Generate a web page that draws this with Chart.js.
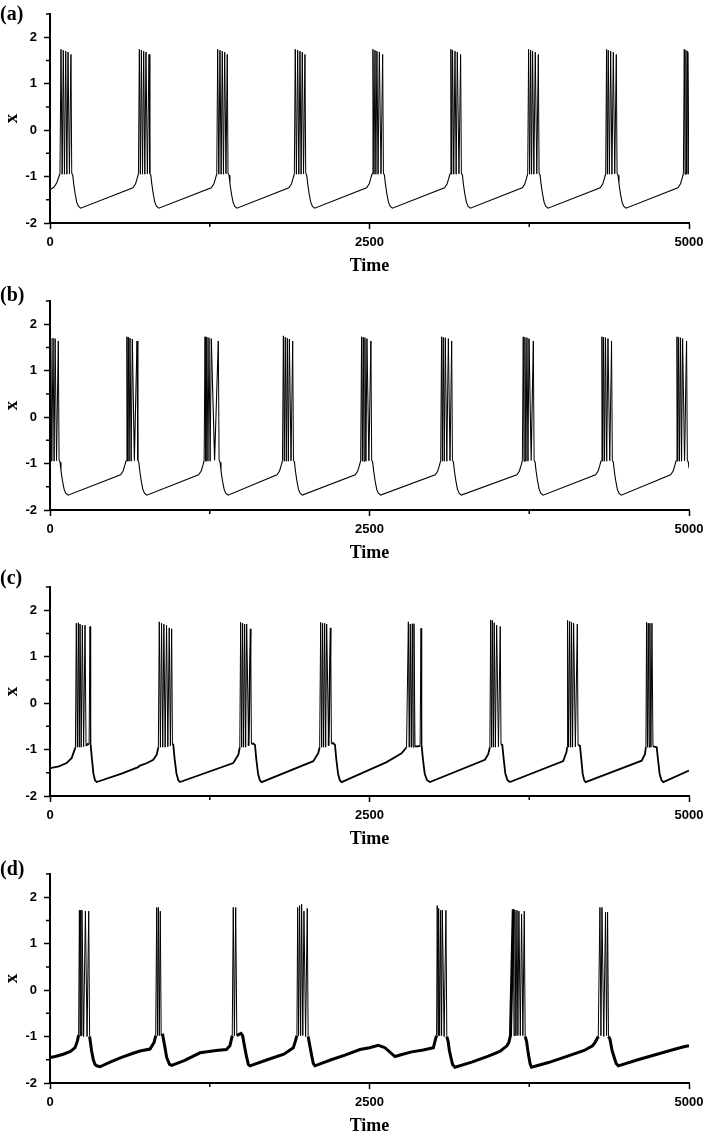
<!DOCTYPE html>
<html>
<head>
<meta charset="utf-8">
<script src="https://cdn.jsdelivr.net/npm/chart.js@4.4.1/dist/chart.umd.min.js"></script>
<style>
html, body { margin: 0; padding: 0; background: #fff; overflow: hidden; }
#wrapper { position: relative; width: 705px; height: 1132px; overflow: hidden; }
.panel { position: absolute; left: 0; }
.tag { position: absolute; left: 0; font: bold 20px "Liberation Serif", "Times New Roman", serif; line-height: 20px; color: #000; }
</style>
</head>
<body>
<div id="wrapper">
  <canvas class="panel" id="pa" width="705" height="286" style="top:0px"></canvas>
  <canvas class="panel" id="pb" width="705" height="286" style="top:287px"></canvas>
  <canvas class="panel" id="pc" width="705" height="286" style="top:573px"></canvas>
  <canvas class="panel" id="pd" width="705" height="286" style="top:860px"></canvas>
  <div class="tag" style="top:3px">(a)</div>
  <div class="tag" style="top:284px">(b)</div>
  <div class="tag" style="top:567px">(c)</div>
  <div class="tag" style="top:858px">(d)</div>
</div>
<script>
const xTicks = [0, 2500, 5000];
const yTicks = [-2, -1, 0, 1, 2];
const xMinor = [1250, 3750];
const yMinor = [-1.5, -0.5, 0.5, 1.5, 2.5];

// [time, x]
const traceA = [
  [0,-1.28],[30,-1.23],[52,-1.14],[66,-1.03],[78,-0.94],
  [86,1.74],[95,-0.95],[104,1.72],[113,-0.95],[123,1.70],[132,-0.95],[141,1.68],[152,-0.94],[164,1.63],[170,-0.93],[178,-0.97],[185,-1.15],[196,-1.36],[209,-1.55],[222,-1.64],[240,-1.68],
  [649,-1.24],[669,-1.16],[681,-1.05],[692,-0.94],
  [699,1.74],[707,-0.95],[715,1.72],[724,-0.95],[733,1.70],[742,-0.95],[751,1.68],[762,-0.94],[775,1.63],[781,-0.93],[789,-0.97],[796,-1.15],[807,-1.36],[820,-1.55],[833,-1.64],[851,-1.68],
  [1262,-1.24],[1282,-1.16],[1294,-1.05],[1305,-0.94],
  [1312,1.74],[1321,-0.95],[1330,1.72],[1339,-0.95],[1348,1.70],[1357,-0.95],[1367,1.68],[1377,-0.94],[1387,1.63],[1393,-0.93],[1401,-0.97],[1408,-1.15],[1419,-1.36],[1432,-1.55],[1445,-1.64],[1463,-1.68],
  [1869,-1.24],[1889,-1.16],[1901,-1.05],[1912,-0.94],
  [1919,1.74],[1928,-0.95],[1938,1.72],[1947,-0.95],[1956,1.70],[1965,-0.95],[1974,1.68],[1984,-0.94],[1995,1.63],[2001,-0.93],[2009,-0.97],[2016,-1.15],[2027,-1.36],[2040,-1.55],[2053,-1.64],[2071,-1.68],
  [2477,-1.24],[2497,-1.16],[2509,-1.05],[2520,-0.94],
  [2527,1.74],[2535,-0.95],[2543,1.72],[2550,-0.95],[2558,1.70],[2567,-0.95],[2577,1.68],[2590,-0.94],[2603,1.63],[2609,-0.93],[2617,-0.97],[2624,-1.15],[2635,-1.36],[2648,-1.55],[2661,-1.64],[2679,-1.68],
  [3087,-1.24],[3107,-1.16],[3119,-1.05],[3130,-0.94],
  [3137,1.74],[3143,-0.95],[3150,1.72],[3159,-0.95],[3169,1.70],[3178,-0.95],[3187,1.68],[3200,-0.94],[3213,1.63],[3219,-0.93],[3227,-0.97],[3234,-1.15],[3245,-1.36],[3258,-1.55],[3271,-1.64],[3289,-1.68],
  [3695,-1.24],[3715,-1.16],[3727,-1.05],[3738,-0.94],
  [3745,1.74],[3753,-0.95],[3761,1.72],[3768,-0.95],[3776,1.70],[3786,-0.95],[3797,1.68],[3809,-0.94],[3821,1.63],[3827,-0.93],[3835,-0.97],[3842,-1.15],[3853,-1.36],[3866,-1.55],[3879,-1.64],[3897,-1.68],
  [4305,-1.24],[4325,-1.16],[4337,-1.05],[4348,-0.94],
  [4355,1.74],[4361,-0.95],[4368,1.72],[4377,-0.95],[4387,1.70],[4397,-0.95],[4408,1.68],[4419,-0.94],[4431,1.63],[4437,-0.93],[4445,-0.97],[4452,-1.15],[4463,-1.36],[4476,-1.55],[4489,-1.64],[4507,-1.68],
  [4913,-1.24],[4933,-1.16],[4945,-1.05],[4956,-0.94],
  [4963,1.74],[4969,-0.95],[4976,1.72],[4982,-0.95],[4989,1.70],[4994,-0.95],[5000,1.68]
];

const traceB = [
  [0,-0.95],[6,1.70],[14,-0.95],[24,1.70],[32,-0.95],[40,1.69],[51,-0.94],[65,1.64],[71,-0.93],[79,-0.97],[86,-1.15],[97,-1.36],[110,-1.55],[123,-1.64],[141,-1.68],
  [552,-1.24],[572,-1.16],[584,-1.05],[595,-0.94],
  [602,1.73],[608,-0.95],[613,1.72],[619,-0.95],[626,1.70],[635,-0.95],[644,1.68],[660,-0.94],[681,1.64],[687,-0.93],[695,-0.97],[702,-1.15],[713,-1.36],[726,-1.55],[739,-1.64],[757,-1.68],
  [1163,-1.24],[1183,-1.16],[1195,-1.05],[1206,-0.94],
  [1213,1.73],[1220,-0.95],[1228,1.72],[1236,-0.95],[1244,1.71],[1253,-0.95],[1262,1.69],[1288,-0.93],[1317,1.64],[1323,-0.93],[1331,-0.97],[1338,-1.15],[1349,-1.36],[1362,-1.55],[1375,-1.64],[1393,-1.68],
  [1776,-1.24],[1796,-1.16],[1808,-1.05],[1819,-0.94],
  [1826,1.75],[1833,-0.95],[1841,1.72],[1849,-0.95],[1857,1.70],[1865,-0.95],[1873,1.68],[1886,-0.94],[1899,1.64],[1905,-0.93],[1913,-0.97],[1920,-1.15],[1931,-1.36],[1944,-1.55],[1957,-1.64],[1975,-1.68],
  [2388,-1.24],[2408,-1.16],[2420,-1.05],[2431,-0.94],
  [2438,1.73],[2444,-0.95],[2451,1.72],[2457,-0.95],[2464,1.71],[2472,-0.95],[2480,1.69],[2495,-0.94],[2511,1.64],[2517,-0.93],[2525,-0.97],[2532,-1.15],[2543,-1.36],[2556,-1.55],[2569,-1.64],[2587,-1.68],
  [3014,-1.24],[3034,-1.16],[3046,-1.05],[3057,-0.94],
  [3064,1.73],[3070,-0.95],[3077,1.72],[3085,-0.95],[3093,1.71],[3105,-0.95],[3117,1.69],[3130,-0.94],[3143,1.64],[3149,-0.93],[3157,-0.97],[3164,-1.15],[3175,-1.36],[3188,-1.55],[3201,-1.64],[3219,-1.68],
  [3653,-1.24],[3673,-1.16],[3685,-1.05],[3696,-0.94],
  [3703,1.73],[3709,-0.95],[3716,1.72],[3724,-0.95],[3732,1.71],[3740,-0.95],[3748,1.69],[3765,-0.94],[3782,1.64],[3788,-0.93],[3796,-0.97],[3803,-1.15],[3814,-1.36],[3827,-1.55],[3840,-1.64],[3858,-1.68],
  [4269,-1.24],[4289,-1.16],[4301,-1.05],[4312,-0.94],
  [4319,1.73],[4325,-0.95],[4332,1.72],[4339,-0.95],[4347,1.71],[4356,-0.95],[4366,1.69],[4380,-0.94],[4394,1.64],[4400,-0.93],[4408,-0.97],[4415,-1.15],[4426,-1.36],[4439,-1.55],[4452,-1.64],[4470,-1.68],
  [4856,-1.24],[4876,-1.16],[4888,-1.05],[4899,-0.94],
  [4906,1.73],[4912,-0.95],[4919,1.72],[4926,-0.95],[4934,1.71],[4942,-0.95],[4950,1.69],[4965,-0.94],[4981,1.64],[4987,-0.93],[4995,-0.97],[5000,-1.1]
];

const traceC = [
  [0,-1.40],[70,-1.36],[130,-1.29],[170,-1.18],[188,-1.04],[199,-0.95],
  [206,1.72],[214,-0.95],[222,1.73],[229,-0.95],[235,1.70],[244,-0.95],[253,1.68],[263,-0.94],[274,1.68],[282,-0.92],[295,-0.88],[306,-0.89],[313,1.65],[318,-0.9],[328,-1.2],[340,-1.52],[352,-1.66],[365,-1.70],
  [560,-1.52],[690,-1.38],[700,-1.35],[760,-1.29],[808,-1.22],[835,-1.11],[848,-0.95],
  [855,1.75],[864,-0.95],[873,1.72],[882,-0.95],[891,1.70],[901,-0.95],[912,1.68],[922,-0.94],[933,1.62],[942,-0.92],[952,1.60],[958,-0.88],[965,-0.9],[975,-1.2],[990,-1.52],[1004,-1.66],[1017,-1.70],
  [1434,-1.29],[1474,-1.11],[1485,-0.95],
  [1492,1.74],[1500,-0.95],[1507,1.72],[1515,-0.95],[1523,1.70],[1531,-0.95],[1539,1.70],[1554,-0.92],[1570,1.60],[1576,-0.88],[1590,-0.87],[1604,-0.9],[1614,-1.2],[1628,-1.52],[1642,-1.66],[1656,-1.70],
  [2060,-1.25],[2099,-1.08],[2110,-0.95],
  [2118,1.74],[2126,-0.95],[2133,1.72],[2141,-0.95],[2149,1.72],[2157,-0.95],[2165,1.70],[2180,-0.92],[2196,1.62],[2202,-0.87],[2215,-0.86],[2230,-0.9],[2240,-1.2],[2254,-1.52],[2268,-1.66],[2282,-1.70],
  [2634,-1.27],[2751,-1.08],[2790,-0.95],
  [2804,1.75],[2811,-0.95],[2819,1.70],[2827,-0.95],[2835,1.71],[2841,-0.95],[2848,1.71],[2856,-0.93],[2880,-0.93],[2896,-0.92],[2903,1.61],[2908,-0.92],[2918,-1.2],[2932,-1.52],[2950,-1.66],[2973,-1.70],
  [3403,-1.22],[3429,-1.1],[3442,-0.95],
  [3448,1.79],[3455,-0.95],[3461,1.78],[3469,-0.95],[3476,1.73],[3485,-0.95],[3495,1.68],[3509,-0.94],[3523,1.65],[3529,-0.89],[3539,-0.9],[3550,-1.2],[3563,-1.52],[3580,-1.66],[3599,-1.70],
  [4016,-1.25],[4042,-1.05],[4046,-0.95],
  [4050,1.78],[4058,-0.95],[4066,1.76],[4074,-0.95],[4081,1.74],[4089,-0.95],[4097,1.72],[4111,-0.94],[4126,1.70],[4132,-0.9],[4147,-0.92],[4157,-1.2],[4168,-1.52],[4180,-1.66],[4191,-1.70],
  [4630,-1.24],[4655,-1.10],[4663,-0.95],
  [4668,1.74],[4675,-0.95],[4681,1.72],[4688,-0.95],[4694,1.72],[4702,-0.95],[4710,1.72],[4718,-0.93],[4747,-0.95],[4757,-1.2],[4770,-1.52],[4785,-1.66],[4799,-1.70],
  [5000,-1.45]
];

const traceD = [
  [0,-1.45],[40,-1.43],[104,-1.38],[160,-1.32],[196,-1.24],[214,-1.1],[224,-0.97],
  [230,1.72],[235,-0.98],[240,1.72],[245,-0.98],[250,1.72],[263,-1.0],[277,1.70],[290,-1.0],[303,1.70],[310,-1.0],[325,-1.3],[339,-1.5],[352,-1.6],[365,-1.63],[391,-1.65],
  [470,-1.55],[560,-1.45],[650,-1.36],[704,-1.31],[782,-1.27],[814,-1.13],[827,-0.98],
  [835,1.78],[841,-0.98],[848,1.78],[855,-0.98],[863,1.70],[870,-0.98],[882,-0.97],[897,-1.2],[913,-1.45],[935,-1.6],[952,-1.62],
  [1050,-1.52],[1174,-1.35],[1300,-1.30],[1380,-1.28],[1408,-1.2],[1426,-0.98],
  [1434,1.78],[1443,-0.98],[1453,1.78],[1462,-0.98],[1480,-0.95],[1495,-0.93],[1507,-0.98],[1525,-1.25],[1539,-1.45],[1552,-1.6],[1565,-1.63],
  [1700,-1.5],[1830,-1.38],[1904,-1.24],[1920,-1.1],[1932,-0.98],
  [1938,1.78],[1945,-0.98],[1953,1.82],[1961,-0.98],[1969,1.85],[1978,-0.98],[1987,1.70],[2000,-1.0],[2013,1.76],[2020,-1.0],[2033,-1.2],[2047,-1.4],[2060,-1.58],[2073,-1.63],
  [2200,-1.5],[2308,-1.40],[2425,-1.28],[2500,-1.24],[2569,-1.19],[2621,-1.24],[2699,-1.43],[2760,-1.38],[2830,-1.33],[2920,-1.29],[3000,-1.24],[3017,-1.05],[3025,-0.98],
  [3030,1.82],[3036,-0.98],[3041,1.76],[3049,-0.98],[3057,1.72],[3064,-0.98],[3070,1.72],[3084,-1.0],[3098,1.72],[3105,-1.0],[3115,-1.1],[3125,-1.3],[3137,-1.45],[3150,-1.6],[3169,-1.66],
  [3300,-1.55],[3430,-1.42],[3520,-1.32],[3575,-1.2],[3590,-1.13],[3603,-0.98],
  [3625,1.74],[3631,-0.98],[3638,1.72],[3646,-0.98],[3654,1.72],[3661,-0.98],[3669,1.70],[3680,-0.98],[3690,1.64],[3700,-0.98],[3711,1.70],[3718,-1.0],[3729,-1.1],[3739,-1.3],[3748,-1.45],[3758,-1.6],[3768,-1.66],
  [3900,-1.56],[4050,-1.42],[4180,-1.3],[4245,-1.2],[4264,-1.13],[4290,-1.0],
  [4303,1.78],[4311,-0.98],[4319,1.78],[4333,-1.0],[4347,1.68],[4355,-0.98],[4363,1.68],[4370,-1.0],[4381,-1.05],[4398,-1.3],[4415,-1.45],[4430,-1.58],[4447,-1.63],
  [4600,-1.5],[4750,-1.38],[4880,-1.28],[4960,-1.22],[5000,-1.2]
];

const sansFont = '"Liberation Sans", Arial, sans-serif';
const serifFont = '"Liberation Serif", "Times New Roman", serif';

const minorTicks = {
  id: 'minorTicks',
  afterDraw(chart) {
    const ctx = chart.ctx;
    const x = chart.scales.x;
    const y = chart.scales.y;
    const area = chart.chartArea;
    ctx.save();
    ctx.strokeStyle = '#000';
    ctx.lineWidth = 1.5;
    ctx.beginPath();
    yMinor.forEach(v => {
      const py = y.getPixelForValue(v);
      ctx.moveTo(area.left - 4, py);
      ctx.lineTo(area.left, py);
    });
    xMinor.forEach(v => {
      const px = x.getPixelForValue(v);
      ctx.moveTo(px, area.bottom);
      ctx.lineTo(px, area.bottom + 4);
    });
    ctx.stroke();
    ctx.restore();
  }
};

function makePanel(id, trace, thick) {
  const steep = c => Math.abs(c.p1.x - c.p0.x) < 2 && Math.abs(c.p1.y - c.p0.y) > 15;
  return new Chart(document.getElementById(id), {
    type: 'line',
    data: {
      datasets: [{
        data: trace.map(p => ({x: p[0], y: p[1]})),
        borderColor: '#000',
        borderWidth: thick,
        pointRadius: 0,
        tension: 0,
        fill: false,
        segment: {
          borderWidth: c => steep(c) ? 1 : thick
        }
      }]
    },
    options: {
      responsive: false,
      animation: false,
      events: [],
      layout: {padding: {top: 14, right: 16, bottom: 0, left: 0}},
      plugins: {legend: {display: false}, tooltip: {enabled: false}},
      scales: {
        x: {
          type: 'linear',
          min: 0,
          max: 5000,
          afterBuildTicks: s => { s.ticks = xTicks.map(v => ({value: v})); },
          afterFit: s => { s.height = 63; s.paddingLeft = 0; s.paddingRight = 0; },
          grid: {display: true, drawOnChartArea: false, drawTicks: true, tickLength: 6, tickWidth: 1.5, tickColor: '#000'},
          border: {display: true, color: '#000', width: 2},
          ticks: {
            color: '#000', padding: 6, maxRotation: 0, autoSkip: false,
            font: {family: sansFont, size: 13, weight: 'bold'},
            callback: v => String(v)
          },
          title: {
            display: true, text: 'Time', color: '#000',
            padding: {top: 0, bottom: 9},
            font: {family: serifFont, size: 18, weight: 'bold'}
          }
        },
        y: {
          min: -2,
          max: 2.5,
          afterBuildTicks: s => { s.ticks = yTicks.map(v => ({value: v})); },
          afterFit: s => { s.width = 50; s.paddingTop = 0; s.paddingBottom = 0; },
          grid: {display: true, drawOnChartArea: false, drawTicks: true, tickLength: 6, tickWidth: 1.5, tickColor: '#000'},
          border: {display: true, color: '#000', width: 2},
          ticks: {
            color: '#000', padding: 7, autoSkip: false,
            font: {family: sansFont, size: 13, weight: 'bold', lineHeight: 1},
            callback: v => String(v)
          },
          title: {
            display: true, text: 'x', color: '#000',
            padding: {top: 1, bottom: 0},
            font: {family: serifFont, size: 19, weight: 'bold'}
          }
        }
      }
    },
    plugins: [minorTicks]
  });
}

makePanel('pa', traceA, 1.1);
makePanel('pb', traceB, 1.1);
makePanel('pc', traceC, 1.8);
makePanel('pd', traceD, 3.0);
</script>
</body>
</html>
